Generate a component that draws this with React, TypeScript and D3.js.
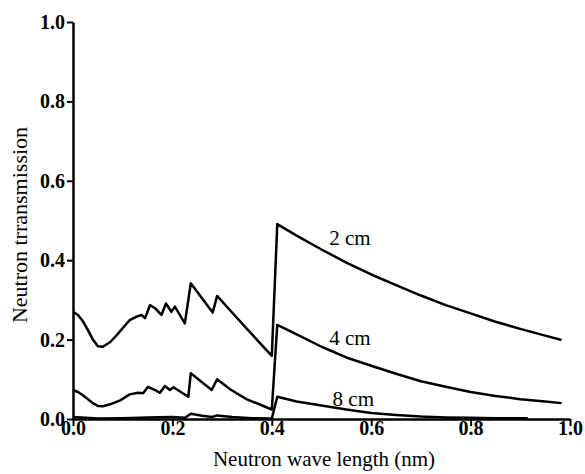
import React, { useRef, useEffect } from 'react'
import * as d3 from 'd3'

// wavelength (nm) and transmission
const wl2cm = [
	0, 0.01, 0.02, 0.03, 0.04, 0.05, 0.06, 0.075, 0.09, 0.105, 0.114, 0.128, 0.138, 0.145, 0.155, 0.165,
	0.178, 0.187, 0.198, 0.205, 0.225, 0.237, 0.281, 0.29, 0.316, 0.35, 0.4, 0.411, 0.45, 0.5, 0.55, 0.6,
	0.65, 0.7, 0.75, 0.8, 0.85, 0.9, 0.95, 0.983,
]
const tr2cm = [
	0.27, 0.262, 0.246, 0.224, 0.2, 0.183, 0.182, 0.194, 0.214, 0.236, 0.249, 0.258, 0.262, 0.254, 0.287, 0.279,
	0.262, 0.291, 0.27, 0.283, 0.241, 0.342, 0.268, 0.31, 0.274, 0.227, 0.159, 0.491, 0.462, 0.427, 0.394, 0.364,
	0.337, 0.311, 0.287, 0.266, 0.245, 0.227, 0.21, 0.199,
]

const wl4cm = [
	0, 0.01, 0.02, 0.03, 0.04, 0.05, 0.06, 0.075, 0.095, 0.114, 0.131, 0.141, 0.151, 0.165, 0.175, 0.185,
	0.195, 0.202, 0.232, 0.237, 0.279, 0.29, 0.316, 0.349, 0.4, 0.411, 0.45, 0.5, 0.55, 0.6, 0.65, 0.7, 0.75,
	0.8, 0.85, 0.9, 0.95, 0.983,
]
const tr4cm = [
	0.073, 0.068, 0.06, 0.05, 0.04, 0.033, 0.032, 0.037, 0.047, 0.062, 0.066, 0.065, 0.081, 0.073, 0.066, 0.083,
	0.073, 0.08, 0.056, 0.115, 0.073, 0.1, 0.075, 0.05, 0.024, 0.237, 0.213, 0.182, 0.155, 0.134, 0.114, 0.095,
	0.081, 0.068, 0.058, 0.05, 0.044, 0.04,
]

const wl8cm = [
	0, 0.05, 0.1, 0.15, 0.2, 0.225, 0.237, 0.26, 0.28, 0.29, 0.32, 0.36, 0.4, 0.411, 0.45, 0.5, 0.55, 0.6, 0.65,
	0.7, 0.75, 0.8, 0.85, 0.915,
]
const tr8cm = [
	0.005, 0.001, 0.002, 0.004, 0.005, 0.003, 0.013, 0.008, 0.005, 0.009, 0.005, 0.002, 0.001, 0.056, 0.044, 0.034,
	0.024, 0.015, 0.01, 0.006, 0.004, 0.003, 0.002, 0.002,
]

const curveLabels = ['2 cm', '4 cm', '8 cm']
const xTicks = [0, 0.2, 0.4, 0.6, 0.8, 1.0]
const yTicks = [0, 0.2, 0.4, 0.6, 0.8, 1.0]

const serif = 'Liberation Serif, Times New Roman, DejaVu Serif, serif'

const App = () => {
	const svgRef = useRef<SVGSVGElement>(null)

	useEffect(() => {
		const svg = d3.select(svgRef.current)
		svg.selectAll('*').remove()

		const x = d3.scaleLinear().domain([0, 1]).range([73, 570])
		const y = d3.scaleLinear().domain([0, 1]).range([419, 22])

		// y axis
		const yAxis = svg
			.append('g')
			.attr('transform', `translate(${x(0)},0)`)
			.call(
				d3
					.axisLeft(y)
					.tickValues(yTicks)
					.tickFormat(d3.format('.1f'))
					.tickSize(6)
					.tickSizeOuter(0)
					.tickPadding(2)
			)
			.attr('font-family', serif)
			.attr('font-size', 20)
			.attr('font-weight', 'bold')
		yAxis.select('.domain').attr('stroke-width', 2.5)
		yAxis.selectAll('.tick line').attr('stroke-width', 2)
		yAxis.selectAll('text').attr('fill', '#000')

		// x axis
		const xAxis = svg
			.append('g')
			.attr('transform', `translate(0,${y(0)})`)
			.call(
				d3
					.axisBottom(x)
					.tickValues(xTicks)
					.tickFormat(d3.format('.1f'))
					.tickSize(7)
					.tickSizeOuter(0)
			)
			.attr('font-family', serif)
			.attr('font-size', 20)
			.attr('font-weight', 'bold')
		xAxis.select('.domain').attr('stroke-width', 2.5)
		xAxis.selectAll('.tick line').attr('stroke-width', 2)
		xAxis.selectAll('text').attr('y', 2).attr('fill', '#000')

		const line = d3
			.line<[number, number]>()
			.x((d) => x(d[0]))
			.y((d) => y(d[1]))
			.curve(d3.curveLinear)

		const series: [number, number][][] = [
			wl2cm.map((w, i) => [w, tr2cm[i]]),
			wl4cm.map((w, i) => [w, tr4cm[i]]),
			wl8cm.map((w, i) => [w, tr8cm[i]]),
		]

		svg.selectAll('path.curve')
			.data(series)
			.join('path')
			.attr('class', 'curve')
			.attr('d', (d) => line(d))
			.attr('fill', 'none')
			.attr('stroke', '#000')
			.attr('stroke-width', 2.5)
			.attr('stroke-linejoin', 'round')

		// curve labels
		const labelPos = [
			[0.557, 0.438],
			[0.557, 0.186],
			[0.564, 0.033],
		]
		svg.selectAll('text.lbl')
			.data(curveLabels)
			.join('text')
			.attr('class', 'lbl')
			.attr('x', (d, i) => x(labelPos[i][0]))
			.attr('y', (d, i) => y(labelPos[i][1]))
			.attr('text-anchor', 'middle')
			.attr('font-family', serif)
			.attr('font-size', 21)
			.text((d) => d)

		// axis titles
		svg.append('text')
			.attr('x', 324)
			.attr('y', 466)
			.attr('text-anchor', 'middle')
			.attr('font-family', serif)
			.attr('font-size', 21)
			.text('Neutron wave length (nm)')

		svg.append('text')
			.attr('transform', 'translate(27,225) rotate(-90)')
			.attr('text-anchor', 'middle')
			.attr('font-family', serif)
			.attr('font-size', 22)
			.text('Neutron trransmission')
	}, [])

	return (
		<svg
			ref={svgRef}
			width={585}
			height={474}
			style={{ position: 'absolute', left: 0, top: 0, background: '#fff' }}
		></svg>
	)
}

export default App
